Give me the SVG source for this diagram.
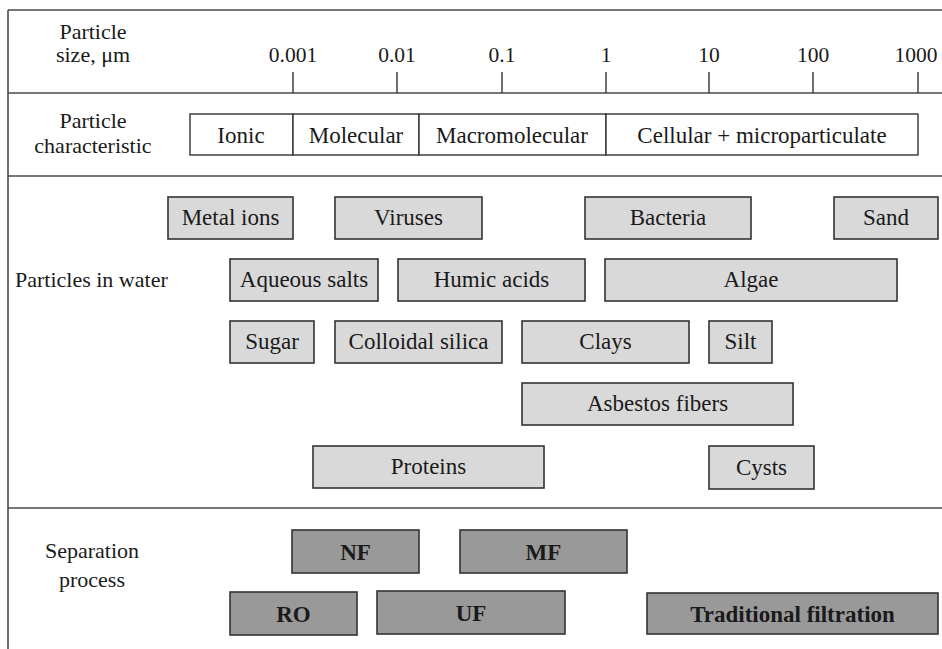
<svg xmlns="http://www.w3.org/2000/svg" width="942" height="649" viewBox="0 0 942 649">
<style>
text{font-family:"Liberation Serif","Times New Roman",serif;font-size:23px;fill:#1a1a1a}
.c{text-anchor:middle}
.b{font-weight:bold}
.lab{font-size:22px}
.num{font-size:21.5px}
.frame{stroke:#4a4a4a;stroke-width:1.6;fill:none}
.tick{stroke:#333;stroke-width:1.4}
.cell{fill:#fff;stroke:#333;stroke-width:1.4}
.lt{fill:#d9d9d9;stroke:#333;stroke-width:1.6}
.dk{fill:#999;stroke:#333;stroke-width:1.6}
</style>
<rect width="942" height="649" fill="#fff"/>
<g id="frame">
<line class="frame" x1="8" y1="10" x2="942" y2="10"/>
<line class="frame" x1="8" y1="10" x2="8" y2="649"/>
<line class="frame" x1="8" y1="93" x2="942" y2="93"/>
<line class="frame" x1="8" y1="176" x2="942" y2="176"/>
<line class="frame" x1="8" y1="508" x2="942" y2="508"/>
</g>
<g id="row-labels">
<text class="c lab" x="93" y="39">Particle</text>
<text class="c lab" x="93" y="62">size, μm</text>
<text class="c lab" x="93" y="128">Particle</text>
<text class="c lab" x="93" y="153">characteristic</text>
<text class="lab" x="15" y="287">Particles in water</text>
<text class="c lab" x="92" y="558">Separation</text>
<text class="c lab" x="92" y="587">process</text>
</g>
<g id="axis">
<line class="tick" x1="293" y1="72" x2="293" y2="93"/>
<line class="tick" x1="397" y1="72" x2="397" y2="93"/>
<line class="tick" x1="502" y1="72" x2="502" y2="93"/>
<line class="tick" x1="606" y1="72" x2="606" y2="93"/>
<line class="tick" x1="709" y1="72" x2="709" y2="93"/>
<line class="tick" x1="813" y1="72" x2="813" y2="93"/>
<line class="tick" x1="918" y1="72" x2="918" y2="93"/>
<text class="c num" x="293" y="62">0.001</text>
<text class="c num" x="397" y="62">0.01</text>
<text class="c num" x="502" y="62">0.1</text>
<text class="c num" x="606" y="62">1</text>
<text class="c num" x="709" y="62">10</text>
<text class="c num" x="813" y="62">100</text>
<text class="c num" x="916" y="62">1000</text>
</g>
<g id="characteristic">
<g id="ionic"><rect class="cell" x="190" y="114" width="103" height="41"/><text class="c" x="241" y="143">Ionic</text></g>
<g id="molecular"><rect class="cell" x="293" y="114" width="126" height="41"/><text class="c" x="356" y="143">Molecular</text></g>
<g id="macromolecular"><rect class="cell" x="419" y="114" width="187" height="41"/><text class="c" x="512" y="143">Macromolecular</text></g>
<g id="cellular"><rect class="cell" x="606" y="114" width="312" height="41"/><text class="c" x="762" y="143">Cellular + microparticulate</text></g>
</g>
<g id="particles">
<g id="metal-ions"><rect class="lt" x="168" y="197" width="125" height="42"/><text class="c" x="230.5" y="225">Metal ions</text></g>
<g id="viruses"><rect class="lt" x="335" y="197" width="147" height="42"/><text class="c" x="408.5" y="225">Viruses</text></g>
<g id="bacteria"><rect class="lt" x="585" y="197" width="166" height="42"/><text class="c" x="668" y="225">Bacteria</text></g>
<g id="sand"><rect class="lt" x="834" y="197" width="104" height="42"/><text class="c" x="886" y="225">Sand</text></g>
<g id="aqueous-salts"><rect class="lt" x="230" y="259" width="148" height="42"/><text class="c" x="304" y="287">Aqueous salts</text></g>
<g id="humic-acids"><rect class="lt" x="398" y="259" width="187" height="42"/><text class="c" x="491.5" y="287">Humic acids</text></g>
<g id="algae"><rect class="lt" x="605" y="259" width="292" height="42"/><text class="c" x="751" y="287">Algae</text></g>
<g id="sugar"><rect class="lt" x="230" y="321" width="84" height="42"/><text class="c" x="272" y="349">Sugar</text></g>
<g id="colloidal-silica"><rect class="lt" x="335" y="321" width="167" height="42"/><text class="c" x="418.5" y="349">Colloidal silica</text></g>
<g id="clays"><rect class="lt" x="522" y="321" width="167" height="42"/><text class="c" x="605.5" y="349">Clays</text></g>
<g id="silt"><rect class="lt" x="709" y="321" width="63" height="42"/><text class="c" x="740.5" y="349">Silt</text></g>
<g id="asbestos"><rect class="lt" x="522" y="383" width="271" height="42"/><text class="c" x="657.5" y="411">Asbestos fibers</text></g>
<g id="proteins"><rect class="lt" x="313" y="446" width="231" height="42"/><text class="c" x="428.5" y="474">Proteins</text></g>
<g id="cysts"><rect class="lt" x="709" y="446" width="105" height="43"/><text class="c" x="761.5" y="475">Cysts</text></g>
</g>
<g id="processes">
<g id="nf"><rect class="dk" x="292" y="530" width="127" height="43"/><text class="c b" x="355.5" y="560">NF</text></g>
<g id="mf"><rect class="dk" x="460" y="530" width="167" height="43"/><text class="c b" x="543.5" y="560">MF</text></g>
<g id="ro"><rect class="dk" x="230" y="592" width="127" height="43"/><text class="c b" x="293.5" y="622">RO</text></g>
<g id="uf"><rect class="dk" x="377" y="591" width="188" height="43"/><text class="c b" x="471" y="621">UF</text></g>
<g id="traditional"><rect class="dk" x="647" y="593" width="291" height="41"/><text class="c b" x="792.5" y="622">Traditional filtration</text></g>
</g>
<g id="connectors"/>
</svg>
